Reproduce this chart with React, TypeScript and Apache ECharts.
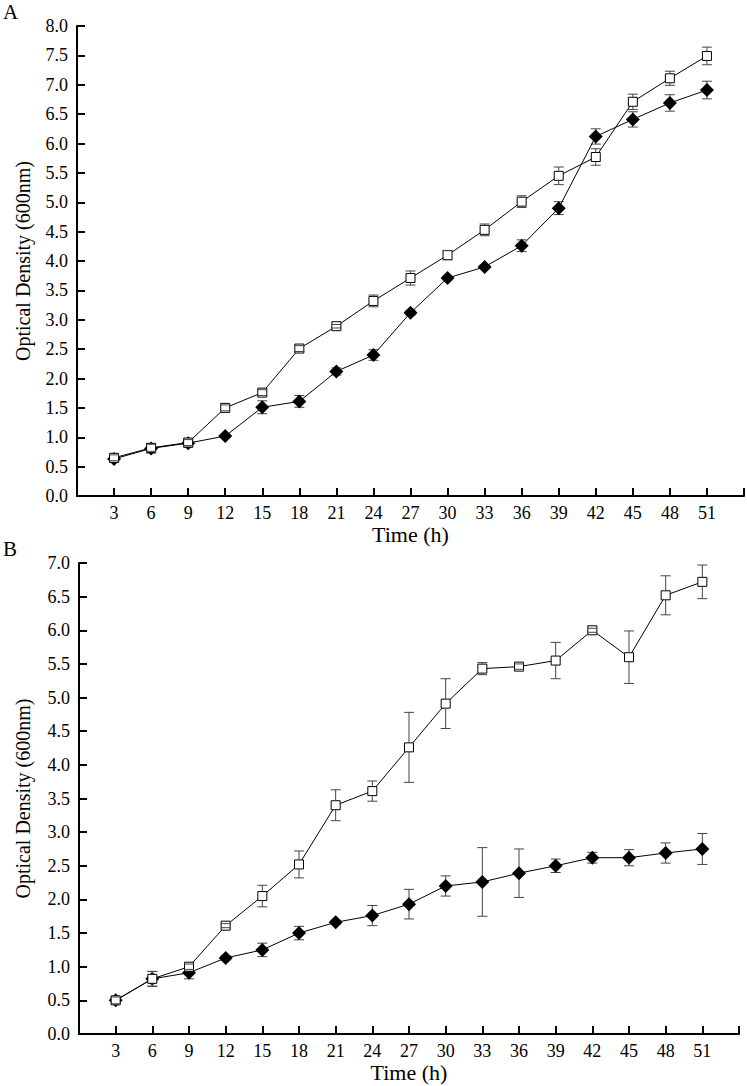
import React, { useEffect, useRef } from "react";
import * as echarts from "echarts";

const times = [3, 6, 9, 12, 15, 18, 21, 24, 27, 30, 33, 36, 39, 42, 45, 48, 51];

const aOpen = [0.65, 0.82, 0.91, 1.5, 1.76, 2.51, 2.89, 3.32, 3.71, 4.1, 4.53, 5.01, 5.45, 5.77, 6.71, 7.11, 7.49];
const aOpenErr = [0.05, 0.06, 0.05, 0.05, 0.05, 0.05, 0.03, 0.1, 0.12, 0.08, 0.1, 0.1, 0.15, 0.14, 0.13, 0.12, 0.15];
const aFilled = [0.63, 0.81, 0.9, 1.02, 1.51, 1.61, 2.12, 2.4, 3.12, 3.71, 3.9, 4.26, 4.9, 6.12, 6.41, 6.69, 6.91];
const aFilledErr = [0.06, 0.08, 0.07, 0.03, 0.11, 0.1, 0.06, 0.09, 0.04, 0.03, 0.03, 0.1, 0.11, 0.13, 0.13, 0.14, 0.15];

const bOpen = [0.5, 0.82, 1.0, 1.61, 2.05, 2.52, 3.4, 3.61, 4.26, 4.91, 5.43, 5.46, 5.55, 6.0, 5.6, 6.52, 6.72];
const bOpenErr = [0.05, 0.11, 0.04, 0.03, 0.16, 0.2, 0.23, 0.15, 0.52, 0.37, 0.09, 0.04, 0.27, 0.03, 0.39, 0.29, 0.25];
const bFilled = [0.5, 0.82, 0.91, 1.13, 1.25, 1.5, 1.66, 1.76, 1.93, 2.2, 2.26, 2.39, 2.5, 2.62, 2.62, 2.69, 2.75];
const bFilledErr = [0.05, 0.11, 0.09, 0.03, 0.1, 0.1, 0.03, 0.15, 0.22, 0.15, 0.51, 0.36, 0.1, 0.08, 0.12, 0.15, 0.23];

const panelLabels = ["A", "B"];
const xTitle = "Time (h)";
const yTitle = "Optical Density (600nm)";

const FONT = '"Liberation Serif", "Times New Roman", serif';
const ERR_COLOR = "#444";

function pairs(vals: number[]) {
  return times.map((t, i) => [t, vals[i]]);
}
function triples(vals: number[], errs: number[]) {
  return times.map((t, i) => [t, vals[i], errs[i]]);
}

function makeErrRender(skipHalf: number) {
  return (params: any, api: any) => {
    const x = api.value(0);
    const y = api.value(1);
    const e = api.value(2);
    const top = api.coord([x, y + e]);
    const bot = api.coord([x, y - e]);
    const c = api.coord([x, y]);
    const cap = 5;
    const style = { stroke: ERR_COLOR, lineWidth: 1 };
    const children: any[] = [
      { type: "line", shape: { x1: top[0] - cap, y1: top[1], x2: top[0] + cap, y2: top[1] }, style },
      { type: "line", shape: { x1: bot[0] - cap, y1: bot[1], x2: bot[0] + cap, y2: bot[1] }, style },
    ];
    if (top[1] < c[1] - skipHalf) {
      children.push({ type: "line", shape: { x1: c[0], y1: top[1], x2: c[0], y2: c[1] - skipHalf }, style });
    }
    if (bot[1] > c[1] + skipHalf) {
      children.push({ type: "line", shape: { x1: c[0], y1: c[1] + skipHalf, x2: c[0], y2: bot[1] }, style });
    }
    return { type: "group", children };
  };
}

function xAxisCfg(gridIndex: number) {
  return {
    type: "value",
    gridIndex,
    min: 0,
    max: 54,
    interval: 3,
    name: xTitle,
    nameLocation: "middle",
    nameGap: 27,
    nameTextStyle: { fontFamily: FONT, fontSize: 22, color: "#000" },
    axisLine: { show: true, lineStyle: { color: "#000", width: 2 } },
    axisTick: { show: true, inside: true, length: 8, lineStyle: { color: "#000", width: 2 } },
    axisLabel: {
      fontFamily: FONT,
      fontSize: 18,
      color: "#000",
      margin: 8,
      formatter: (v: number) => (v === 0 || v === 54 ? "" : String(v)),
    },
    splitLine: { show: false },
  };
}

function yAxisCfg(gridIndex: number, max: number, gap: number) {
  return {
    type: "value",
    gridIndex,
    min: 0,
    max,
    interval: 0.5,
    name: yTitle,
    nameLocation: "middle",
    nameGap: gap,
    nameTextStyle: { fontFamily: FONT, fontSize: 20, color: "#000" },
    axisLine: { show: true, lineStyle: { color: "#000", width: 2 } },
    axisTick: { show: true, inside: true, length: 8, lineStyle: { color: "#000", width: 2 } },
    axisLabel: {
      fontFamily: FONT,
      fontSize: 18,
      color: "#000",
      margin: 9,
      formatter: (v: number) => v.toFixed(1),
    },
    splitLine: { show: false },
  };
}

function panelSeries(idx: number, open: number[], openErr: number[], filled: number[], filledErr: number[]) {
  return [
    {
      type: "custom",
      xAxisIndex: idx,
      yAxisIndex: idx,
      z: 1,
      renderItem: makeErrRender(0),
      data: triples(filled, filledErr),
      silent: true,
    },
    {
      type: "line",
      xAxisIndex: idx,
      yAxisIndex: idx,
      z: 2,
      data: pairs(filled),
      symbol: "diamond",
      symbolSize: 14,
      showAllSymbol: true,
      lineStyle: { color: "#000", width: 1 },
      itemStyle: { color: "#000", borderColor: "#000", borderWidth: 0 },
    },
    {
      type: "line",
      xAxisIndex: idx,
      yAxisIndex: idx,
      z: 3,
      data: pairs(open),
      symbol: "rect",
      symbolSize: 9,
      showAllSymbol: true,
      lineStyle: { color: "#000", width: 1 },
      itemStyle: { color: "#fff", borderColor: "#000", borderWidth: 1 },
    },
    {
      type: "custom",
      xAxisIndex: idx,
      yAxisIndex: idx,
      z: 4,
      renderItem: makeErrRender(4.5),
      data: triples(open, openErr),
      silent: true,
    },
  ];
}

export default function App() {
  const ref = useRef<HTMLDivElement>(null);
  useEffect(() => {
    document.body.style.margin = "0";
    if (!ref.current) return;
    const chart = echarts.init(ref.current, null, { renderer: "svg" });
    chart.setOption({
      animation: false,
      backgroundColor: "#fff",
      grid: [
        { left: 77, top: 26, width: 667, height: 470 },
        { left: 79, top: 563, width: 660, height: 471 },
      ],
      xAxis: [xAxisCfg(0), xAxisCfg(1)],
      yAxis: [yAxisCfg(0, 8, 44), yAxisCfg(1, 7, 46)],
      graphic: [
        { type: "text", left: 3, top: 1, style: { text: panelLabels[0], fontFamily: FONT, fontSize: 21, fill: "#000" } },
        { type: "text", left: 3, top: 538, style: { text: panelLabels[1], fontFamily: FONT, fontSize: 21, fill: "#000" } },
      ],
      series: [
        ...panelSeries(0, aOpen, aOpenErr, aFilled, aFilledErr),
        ...panelSeries(1, bOpen, bOpenErr, bFilled, bFilledErr),
      ],
    });
    return () => chart.dispose();
  }, []);
  return <div ref={ref} style={{ width: 747, height: 1086 }} />;
}
